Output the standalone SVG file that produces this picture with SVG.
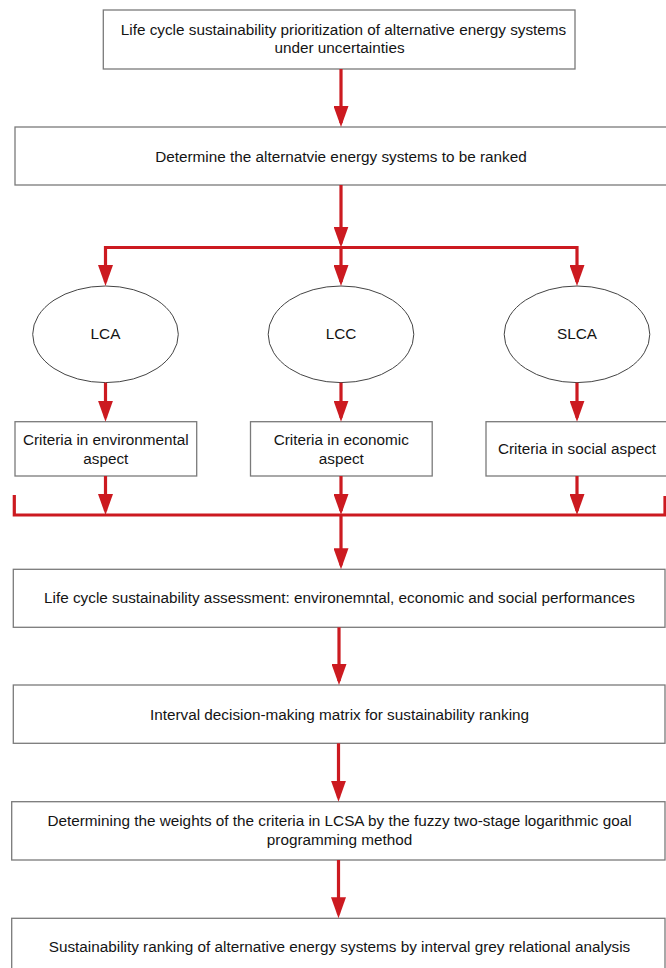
<svg xmlns="http://www.w3.org/2000/svg" width="666" height="968" viewBox="0 0 666 968">
  <style>
    .box { fill: #ffffff; stroke: #7a7a7a; stroke-width: 1.3; }
    .oval { fill: #ffffff; stroke: #444444; stroke-width: 1; }
    .lbl { font-family: "Liberation Sans", Arial, sans-serif; font-size: 15.3px; fill: #141414; text-anchor: middle; }
    .flow { fill: none; stroke: #cc1a20; stroke-width: 3.2; }
    .arr { marker-end: url(#head); }
  </style>
  <defs>
    <!-- arrowhead: tip sits 4px past the end of the line -->
    <marker id="head" markerUnits="userSpaceOnUse" markerWidth="21" markerHeight="15" viewBox="0 0 21 15" refX="17" refY="7.5" orient="auto">
      <path d="M0,0 L21,7.5 L0,15 z" fill="#cc1a20"/>
    </marker>
  </defs>
  <rect width="666" height="968" fill="#ffffff"/>

  <g id="goal">
    <rect class="box" x="103.3" y="10" width="471.7" height="59"/>
    <text class="lbl" x="343.5" y="35">Life cycle sustainability prioritization of alternative energy systems</text>
    <text class="lbl" x="339.5" y="53.3">under uncertainties</text>
  </g>

  <g id="alternatives">
    <rect class="box" x="15" y="127" width="656" height="58"/>
    <text class="lbl" x="341" y="161.7">Determine the alternatvie energy systems to be ranked</text>
  </g>

  <g id="lca">
    <ellipse class="oval" cx="105.5" cy="334.3" rx="72.8" ry="48.3"/>
    <text class="lbl" x="105.5" y="339.3">LCA</text>
  </g>
  <g id="lcc">
    <ellipse class="oval" cx="341" cy="334.3" rx="72.8" ry="48.3"/>
    <text class="lbl" x="341" y="339.3">LCC</text>
  </g>
  <g id="slca">
    <ellipse class="oval" cx="577" cy="334.3" rx="72.8" ry="48.3"/>
    <text class="lbl" x="577" y="339.3">SLCA</text>
  </g>

  <g id="crit-env">
    <rect class="box" x="15" y="421.7" width="181.7" height="54.3"/>
    <text class="lbl" x="105.8" y="445">Criteria in environmental</text>
    <text class="lbl" x="105.8" y="464">aspect</text>
  </g>
  <g id="crit-eco">
    <rect class="box" x="250.5" y="421.7" width="181.7" height="54.3"/>
    <text class="lbl" x="341.3" y="445">Criteria in economic</text>
    <text class="lbl" x="341.3" y="464">aspect</text>
  </g>
  <g id="crit-soc">
    <rect class="box" x="486" y="421.7" width="190" height="54.3"/>
    <text class="lbl" x="577" y="454">Criteria in social aspect</text>
  </g>

  <g id="lcsa">
    <rect class="box" x="13.3" y="569.3" width="651.7" height="58"/>
    <text class="lbl" x="339.5" y="603.3">Life cycle sustainability assessment: environemntal, economic and social performances</text>
  </g>

  <g id="matrix">
    <rect class="box" x="13.3" y="685" width="651.7" height="58.3"/>
    <text class="lbl" x="339.5" y="720">Interval decision-making matrix for sustainability ranking</text>
  </g>

  <g id="weights">
    <rect class="box" x="11.7" y="801.7" width="653.3" height="58.3"/>
    <text class="lbl" x="339.5" y="826">Determining the weights of the criteria in LCSA by the fuzzy two-stage logarithmic goal</text>
    <text class="lbl" x="339.5" y="845">programming method</text>
  </g>

  <g id="ranking">
    <rect class="box" x="11.7" y="918.3" width="653.3" height="60"/>
    <text class="lbl" x="339.5" y="951.7">Sustainability ranking of alternative energy systems by interval grey relational analysis</text>
  </g>

  <g id="connectors">
    <line class="flow arr" x1="341" y1="69" x2="341" y2="123"/>
    <line class="flow arr" x1="341" y1="185" x2="341" y2="243.5"/>
    <!-- split to the three assessment methods -->
    <path class="flow" d="M105.5,247.5 H577"/>
    <line class="flow arr" x1="105.5" y1="246" x2="105.5" y2="282"/>
    <line class="flow arr" x1="341" y1="246" x2="341" y2="282"/>
    <line class="flow arr" x1="577" y1="246" x2="577" y2="282"/>
    <!-- methods to criteria -->
    <line class="flow arr" x1="105.5" y1="382.7" x2="105.5" y2="417.7"/>
    <line class="flow arr" x1="341" y1="382.7" x2="341" y2="417.7"/>
    <line class="flow arr" x1="577" y1="382.7" x2="577" y2="417.7"/>
    <!-- criteria into the merge bar -->
    <line class="flow arr" x1="105.5" y1="476" x2="105.5" y2="511"/>
    <line class="flow arr" x1="341" y1="476" x2="341" y2="511"/>
    <line class="flow arr" x1="577" y1="476" x2="577" y2="511"/>
    <path class="flow" d="M14.3,495 V515 H665 V496"/>
    <line class="flow arr" x1="341" y1="515" x2="341" y2="565.3"/>
    <line class="flow arr" x1="339" y1="627.3" x2="339" y2="681"/>
    <line class="flow arr" x1="338.5" y1="743.3" x2="338.5" y2="797.7"/>
    <line class="flow arr" x1="338.5" y1="860" x2="338.5" y2="914.3"/>
  </g>
</svg>
